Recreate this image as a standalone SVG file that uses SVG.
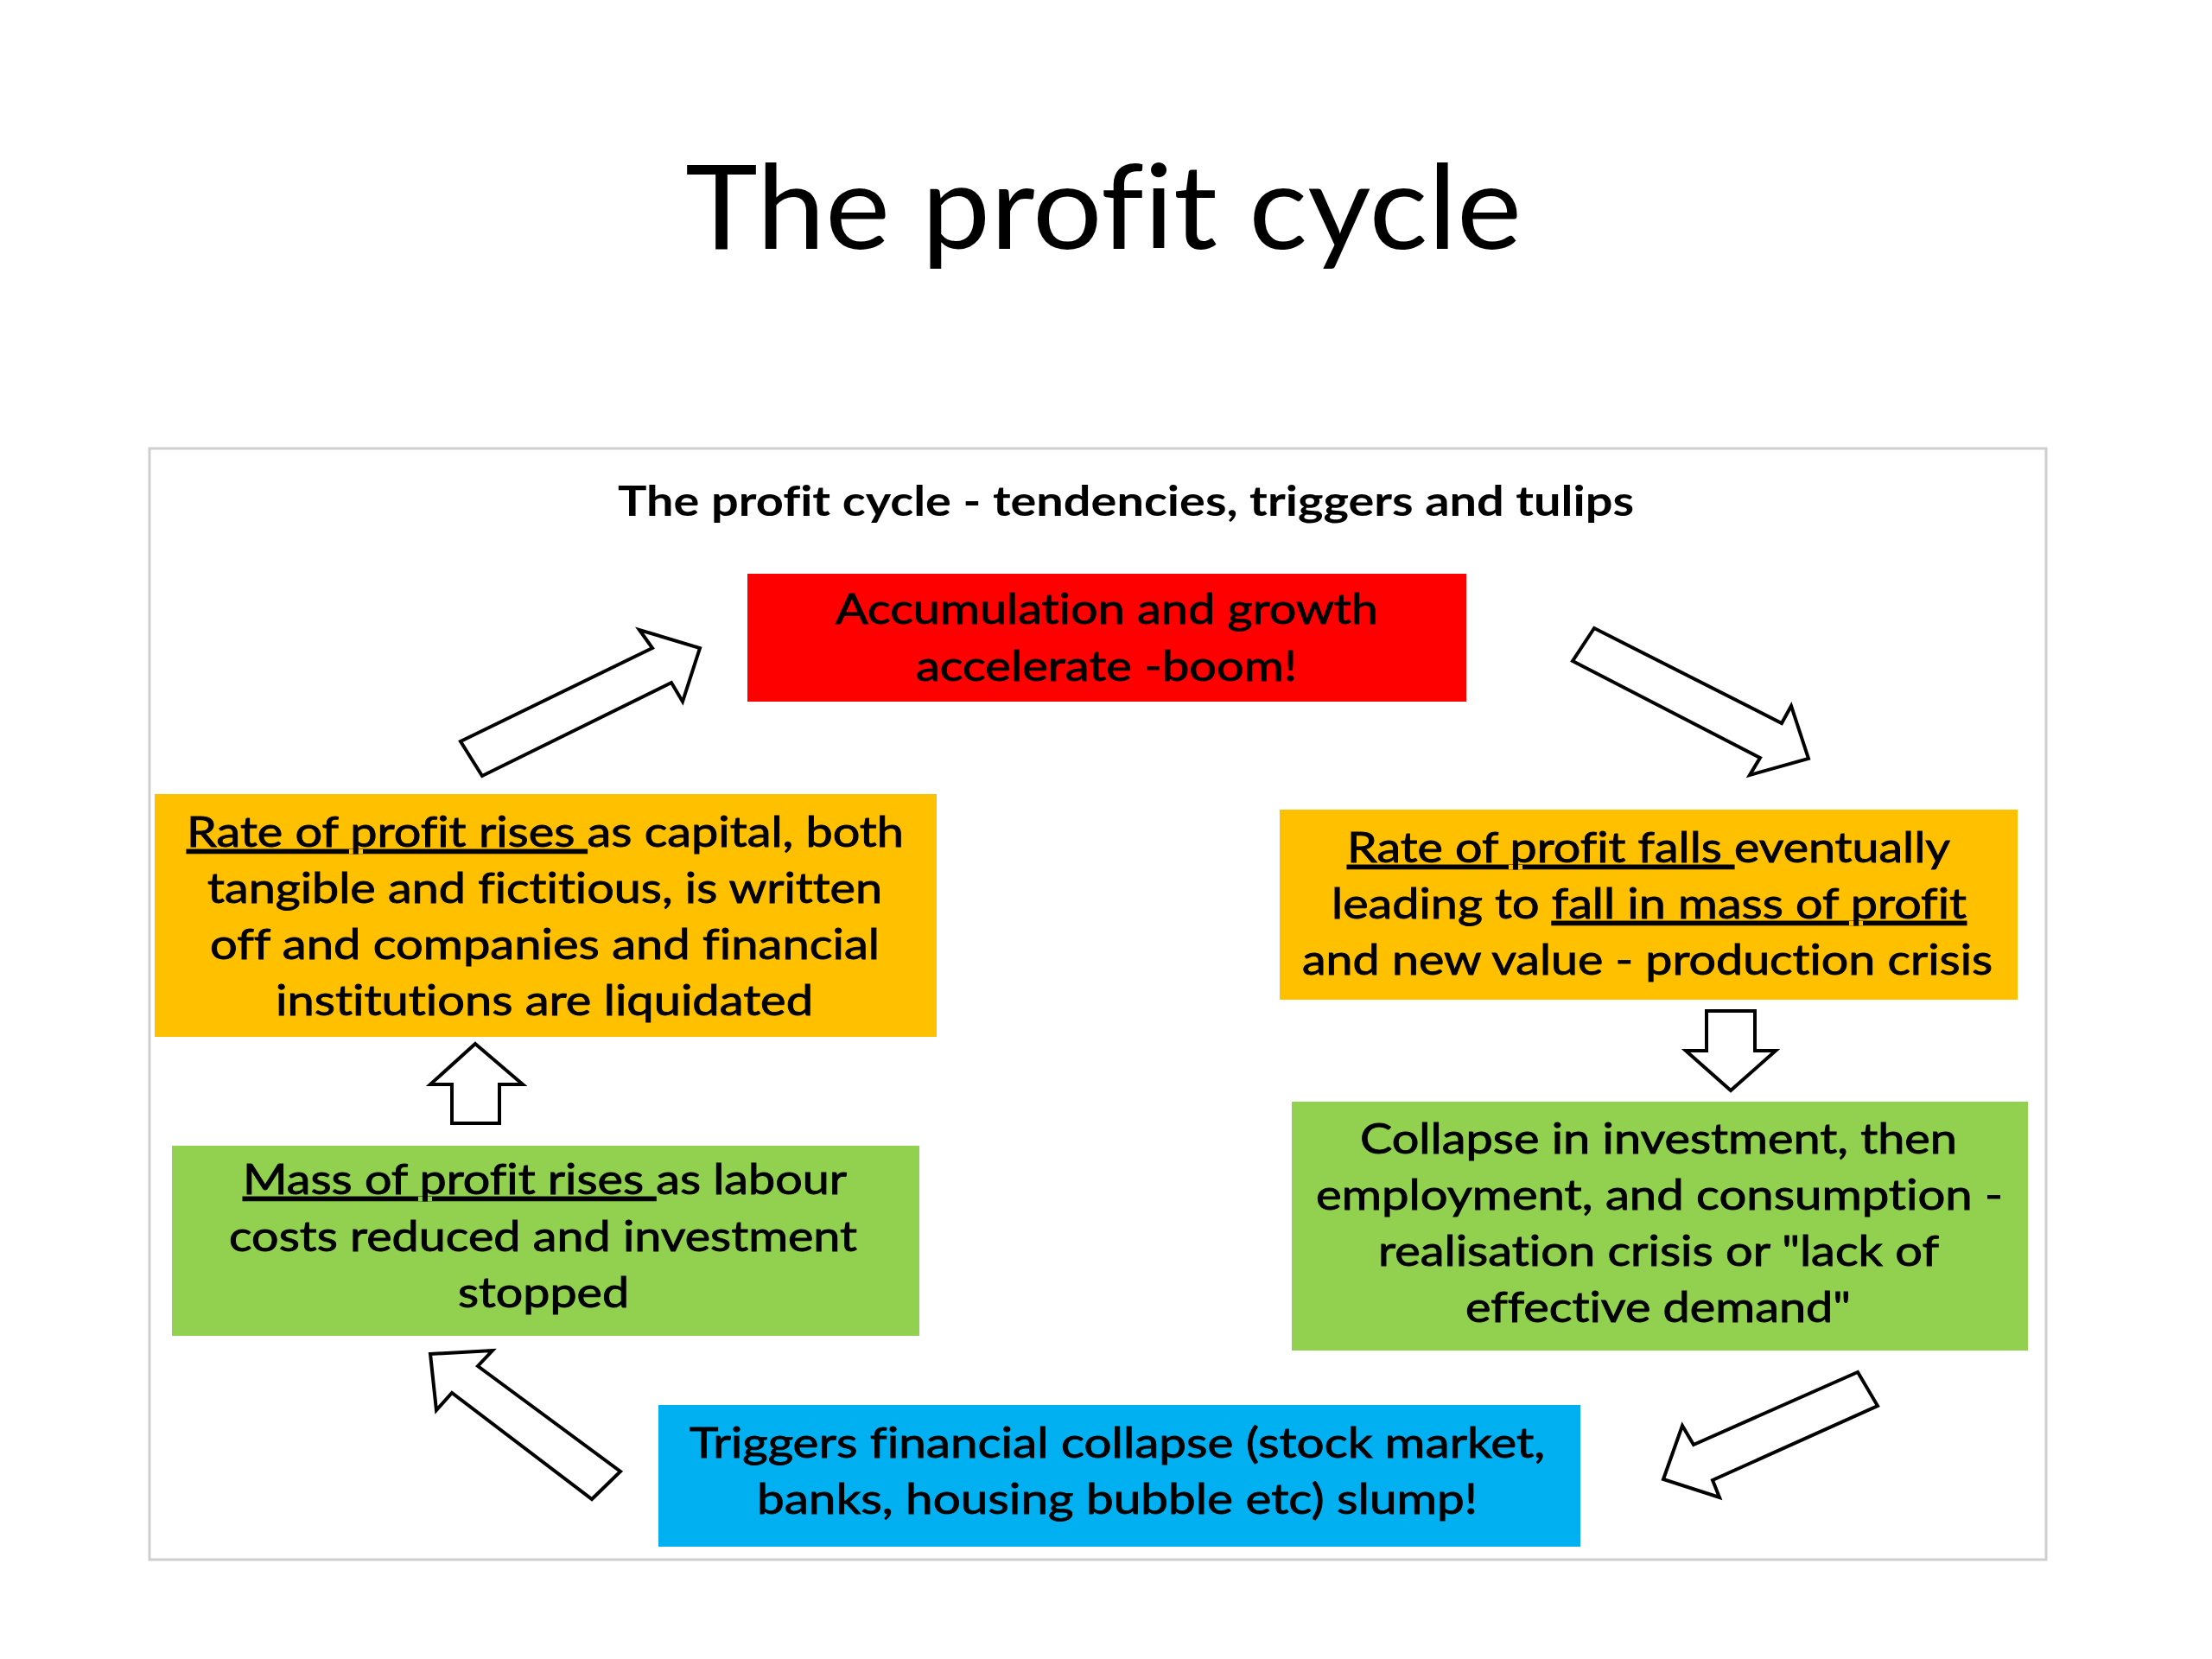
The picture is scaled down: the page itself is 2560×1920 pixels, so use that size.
<svg xmlns="http://www.w3.org/2000/svg" width="2560" height="1920" viewBox="0 0 2560 1920">
<style>
  .t { font-family: Lato, "Open Sans", "Liberation Sans", sans-serif; fill: #000; font-variant-ligatures: none; }
  .body { font-size: 48px; stroke: #000; stroke-width: 0.9; }
  .u { text-decoration: underline; }
  .arrow { fill: #fff; stroke: #000; stroke-width: 4; stroke-linejoin: miter; }
</style>
<rect x="0" y="0" width="2560" height="1920" fill="#fff"/>
<text id="title" class="t" x="793" y="288" font-size="136" textLength="968" lengthAdjust="spacingAndGlyphs">The profit cycle</text>
<rect id="frame" x="173" y="519" width="2195" height="1286" fill="#fff" stroke="#cfcfcf" stroke-width="3"/>
<text id="subtitle" class="t" x="715" y="597" font-size="47" font-weight="bold" textLength="1176" lengthAdjust="spacingAndGlyphs">The profit cycle - tendencies, triggers and tulips</text>

<g id="node-boom">
  <rect x="865" y="664" width="832" height="148" fill="#ff0000"/>
  <text class="t body" x="967" y="722" textLength="628" lengthAdjust="spacingAndGlyphs">Accumulation and growth</text>
  <text class="t body" x="1060" y="788" textLength="441" lengthAdjust="spacingAndGlyphs">accelerate -boom!</text>
</g>

<g id="node-rate-falls">
  <rect x="1481" y="937" width="854" height="220" fill="#ffc000"/>
  <text class="t body" x="1559" y="998" textLength="698" lengthAdjust="spacingAndGlyphs"><tspan class="u">Rate of profit falls </tspan>eventually</text>
  <text class="t body" x="1541" y="1063" textLength="735" lengthAdjust="spacingAndGlyphs">leading to <tspan class="u">fall in mass of profit</tspan></text>
  <text class="t body" x="1507" y="1128" textLength="799" lengthAdjust="spacingAndGlyphs">and new value - production crisis</text>
</g>

<g id="node-collapse">
  <rect x="1495" y="1275" width="852" height="288" fill="#92d050"/>
  <text class="t body" x="1574" y="1335" textLength="691" lengthAdjust="spacingAndGlyphs">Collapse in investment, then</text>
  <text class="t body" x="1523" y="1400" textLength="795" lengthAdjust="spacingAndGlyphs">employment, and consumption -</text>
  <text class="t body" x="1595" y="1465" textLength="649" lengthAdjust="spacingAndGlyphs">realisation crisis or "lack of</text>
  <text class="t body" x="1696" y="1530" textLength="446" lengthAdjust="spacingAndGlyphs">effective demand"</text>
</g>

<g id="node-triggers">
  <rect x="762" y="1626" width="1067" height="164" fill="#00b0f0"/>
  <text class="t body" x="798" y="1687" textLength="990" lengthAdjust="spacingAndGlyphs">Triggers financial collapse (stock market,</text>
  <text class="t body" x="876" y="1752" textLength="834" lengthAdjust="spacingAndGlyphs">banks, housing bubble etc) slump!</text>
</g>

<g id="node-mass-rises">
  <rect x="199" y="1326" width="865" height="220" fill="#92d050"/>
  <text class="t body" x="281" y="1382" textLength="699" lengthAdjust="spacingAndGlyphs"><tspan class="u">Mass of profit rises </tspan>as labour</text>
  <text class="t body" x="265" y="1448" textLength="727" lengthAdjust="spacingAndGlyphs">costs reduced and investment</text>
  <text class="t body" x="530" y="1513" textLength="198" lengthAdjust="spacingAndGlyphs">stopped</text>
</g>

<g id="node-rate-rises">
  <rect x="179" y="919" width="905" height="281" fill="#ffc000"/>
  <text class="t body" x="216" y="980" textLength="830" lengthAdjust="spacingAndGlyphs"><tspan class="u">Rate of profit rises </tspan>as capital, both</text>
  <text class="t body" x="240" y="1045" textLength="781" lengthAdjust="spacingAndGlyphs">tangible and fictitious, is written</text>
  <text class="t body" x="243" y="1110" textLength="775" lengthAdjust="spacingAndGlyphs">off and companies and financial</text>
  <text class="t body" x="319" y="1175" textLength="622" lengthAdjust="spacingAndGlyphs">institutions are liquidated</text>
</g>

<g id="connectors">
  <polygon class="arrow" points="1845,727 2062,837 2073,817 2093,878 2025,897 2037,877 1820,765"/>
  <polygon class="arrow" points="1975,1170 2031,1170 2031,1216 2055,1216 2003,1262 1951,1216 1975,1216"/>
  <polygon class="arrow" points="2150,1588 2173,1627 1982,1713 1990,1733 1925,1712 1947,1650 1960,1672"/>
  <polygon class="arrow" points="498,1567 570,1563 553,1581 718,1703 685,1735 523,1612 505,1632"/>
  <polygon class="arrow" points="550,1208 605,1255 578,1255 578,1300 523,1300 523,1255 498,1255"/>
  <polygon class="arrow" points="533,858 755,750 740,729 810,750 790,812 777,790 558,898"/>
</g>
</svg>
